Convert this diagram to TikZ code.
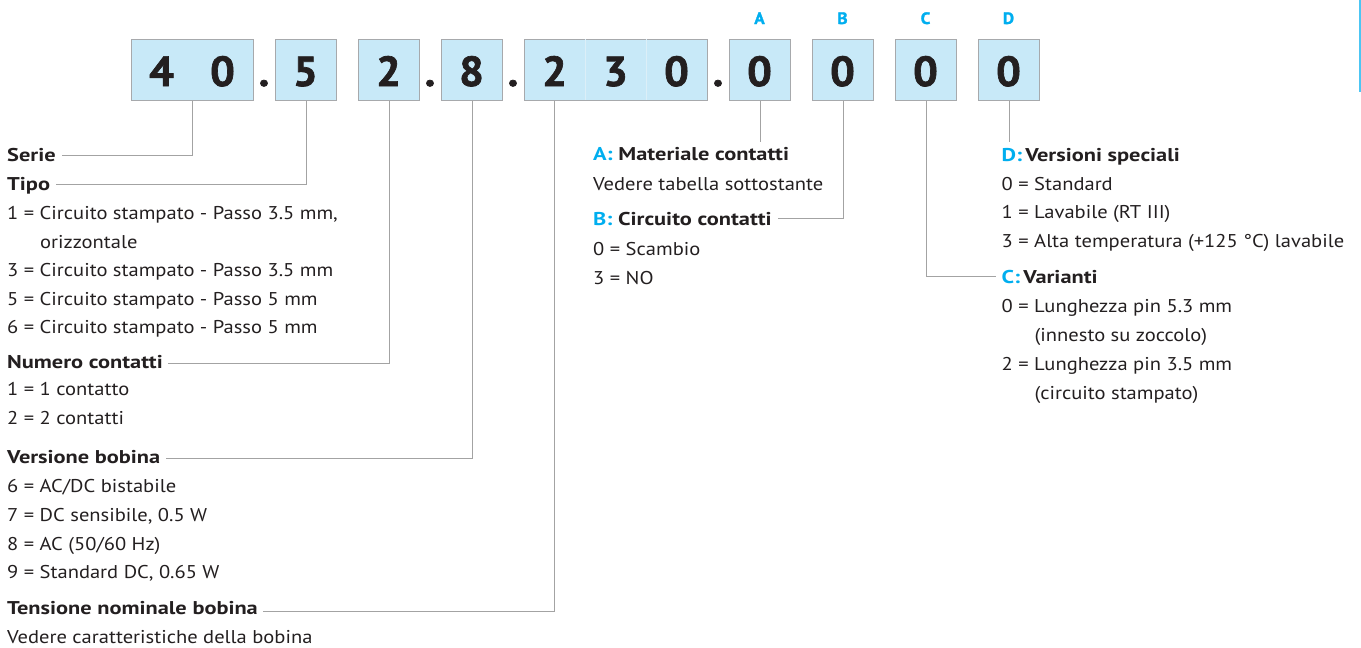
\documentclass[tikz,border=0pt]{standalone}
\usepackage{fontspec}
\setmainfont{PT Sans}[FakeStretch=1.11, BoldFeatures={FakeStretch=1.21}]
\newfontfamily\digitfont{PT Sans Bold}[FakeBold=1.6, FakeStretch=1.04]
\usetikzlibrary{calc}
\definecolor{boxfill}{HTML}{C8E9F8}
\definecolor{boxline}{HTML}{A7A9AC}
\definecolor{connc}{HTML}{A3A3A3}
\definecolor{txt}{HTML}{231F20}
\definecolor{cyanA}{HTML}{00AEEF}
\definecolor{divc}{HTML}{DCEFF8}
\begin{document}
\begin{tikzpicture}[x=1pt,y=-1pt,
  cellbox/.style={draw=boxline, line width=1.1pt, fill=boxfill, minimum height=61pt, inner sep=0pt, anchor=north west},
  digit/.style={anchor=base, inner sep=0pt, font=\fontsize{42}{42}\digitfont, text=txt},
  letter/.style={anchor=base, inner sep=0pt, font=\fontsize{16.5}{16.5}\digitfont, text=cyanA},
  lab/.style={anchor=base west, inner sep=0pt, font=\fontsize{18.5}{20}\selectfont, text=txt},
  head/.style={lab, font=\fontsize{18.5}{20}\selectfont\bfseries},
  conn/.style={draw=connc, line width=1pt}
]
\useasboundingbox (0,0) rectangle (1361,648);
\draw[cyanA!70, line width=2pt] (1360,0) -- (1360,92);

% boxes
\node[cellbox, minimum width=122pt] (b40) at (131,38.5) {};
\node[cellbox, minimum width=61pt] (b5) at (275,38.5) {};
\node[cellbox, minimum width=61pt] (b2) at (358,38.5) {};
\node[cellbox, minimum width=61pt] (b8) at (441,38.5) {};
\node[cellbox, minimum width=183pt] (b230) at (524,38.5) {};
\draw[divc, line width=0.8pt] ($(b230.north west)+(61,0.6)$) -- ($(b230.south west)+(61,-0.6)$);
\draw[divc, line width=0.8pt] ($(b230.north west)+(122,0.6)$) -- ($(b230.south west)+(122,-0.6)$);
\node[cellbox, minimum width=61pt] (bA) at (729,38.5) {};
\node[cellbox, minimum width=61pt] (bB) at (812,38.5) {};
\node[cellbox, minimum width=61pt] (bC) at (895,38.5) {};
\node[cellbox, minimum width=61pt] (bD) at (978,38.5) {};

% digits
\node[digit] (d4) at (161.5,86) {4};
\node[digit] (d0) at (222.5,86) {0};
\node[digit] (p1) at (264,86) {.};
\node[digit] (d5) at (305.5,86) {5};
\node[digit] (d2) at (388.5,86) {2};
\node[digit] (p2) at (430,86) {.};
\node[digit] (d8) at (471.5,86) {8};
\node[digit] (p3) at (513,86) {.};
\node[digit] (e2) at (554.5,86) {2};
\node[digit] (e3) at (615.5,86) {3};
\node[digit] (e0) at (676.5,86) {0};
\node[digit] (p4) at (718,86) {.};
\node[digit] (dA) at (759.5,86) {0};
\node[digit] (dB) at (842.5,86) {0};
\node[digit] (dC) at (925.5,86) {0};
\node[digit] (dD) at (1008.5,86) {0};

% letters
\node[letter] (lA) at (759.5,24) {A};
\node[letter] (lB) at (842.5,24) {B};
\node[letter] (lC) at (925.5,24) {C};
\node[letter] (lD) at (1008.5,24) {D};

% left column
\node[head] (serie) at (7,161) {Serie};
\node[head] (tipo) at (7,190) {Tipo};
\node[lab] (t1) at (7,219.5) {1 = Circuito stampato - Passo 3.5 mm,};
\node[lab] (t1b) at (40,248) {orizzontale};
\node[lab] (t3) at (7,276.5) {3 = Circuito stampato - Passo 3.5 mm};
\node[lab] (t5) at (7,305) {5 = Circuito stampato - Passo 5 mm};
\node[lab] (t6) at (7,333.5) {6 = Circuito stampato - Passo 5 mm};
\node[head] (numero) at (7,368) {Numero contatti};
\node[lab] (n1) at (7,395.5) {1 = 1 contatto};
\node[lab] (n2) at (7,424.5) {2 = 2 contatti};
\node[head] (versione) at (7,463.5) {Versione bobina};
\node[lab] (v6) at (7,492.5) {6 = AC/DC bistabile};
\node[lab] (v7) at (7,521.5) {7 = DC sensibile, 0.5 W};
\node[lab] (v8) at (7,550) {8 = AC (50/60 Hz)};
\node[lab] (v9) at (7,578.5) {9 = Standard DC, 0.65 W};
\node[head] (tensione) at (7,614.5) {Tensione nominale bobina};
\node[lab] (vt) at (7,643) {Vedere caratteristiche della bobina};

% A/B column
\node[head] (ahead) at (593,160.5) {\textcolor{cyanA}{A:} Materiale contatti};
\node[lab] (atext) at (593,190) {Vedere tabella sottostante};
\node[head] (bhead) at (593,225) {\textcolor{cyanA}{B:} Circuito contatti};
\node[lab] (b0) at (593,255) {0 = Scambio};
\node[lab] (b3) at (593,284) {3 = NO};

% D/C column
\node[head] (dhead) at (1001.5,161) {\textcolor{cyanA}{D:}\,Versioni speciali};
\node[lab] (dd0) at (1001.5,190) {0 = Standard};
\node[lab] (dd1) at (1001.5,218.5) {1 = Lavabile (RT III)};
\node[lab] (dd3) at (1001.5,247) {3 = Alta temperatura (+125 °C) lavabile};
\node[head] (chead) at (1001.5,283) {\textcolor{cyanA}{C:}\,Varianti};
\node[lab] (c0) at (1001.5,312) {0 = Lunghezza pin 5.3 mm};
\node[lab] (c0b) at (1034.5,341) {(innesto su zoccolo)};
\node[lab] (c2) at (1001.5,370) {2 = Lunghezza pin 3.5 mm};
\node[lab] (c2b) at (1034.5,399) {(circuito stampato)};

% connectors
\draw[conn] (b40.south) |- ($(serie.base east)+(6,-6)$);
\draw[conn] (b5.south) |- ($(tipo.base east)+(6,-6)$);
\draw[conn] (b2.south) |- ($(numero.base east)+(5,-5)$);
\draw[conn] (b8.south) |- ($(versione.base east)+(5,-5)$);
\draw[conn] ($(b230.south west)+(30.5,0)$) |- ($(tensione.base east)+(5,-3)$);
\draw[conn] (bA.south) -- ($(bA.south)+(0,41)$);
\draw[conn] (bB.south) |- ($(bhead.base east)+(6,-6.5)$);
\draw[conn] (bC.south) |- ($(chead.base west)+(-6,-6.5)$);
\draw[conn] (bD.south) -- ($(bD.south)+(0,41)$);
\end{tikzpicture}
\end{document}
